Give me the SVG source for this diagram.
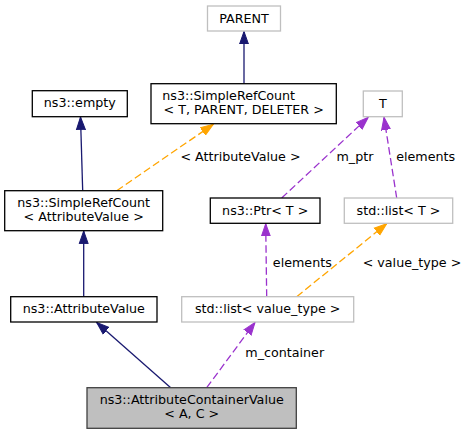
<svg xmlns="http://www.w3.org/2000/svg" width="469" height="435" viewBox="0 0 469 435">
<style>
text{font-family:"DejaVu Sans","Liberation Sans",sans-serif;font-size:12.7px;fill:#000}
.c{text-anchor:middle}
.box{fill:#fff;stroke:#000;stroke-width:1.3}
.ubox{fill:#fff;stroke:#bfbfbf;stroke-width:1.3}
.focus{fill:#bfbfbf;stroke:#404040;stroke-width:1.3}
.inh{stroke:#191970;stroke-width:1.3;fill:none}
.use{stroke:#9a32cd;stroke-width:1.3;fill:none;stroke-dasharray:7.5,3.5}
.tpl{stroke:#ffa500;stroke-width:1.3;fill:none;stroke-dasharray:7.5,3.5}
</style>
<defs>
<marker id="aInh" markerUnits="userSpaceOnUse" markerWidth="14" markerHeight="12" refX="12.7" refY="5" orient="auto" viewBox="0 0 14 10">
<path d="M0,0.5 L12.7,5 L0,9.5 Z" fill="#191970" stroke="#191970" stroke-width="1"/>
</marker>
<marker id="aUse" markerUnits="userSpaceOnUse" markerWidth="14" markerHeight="12" refX="12.7" refY="5" orient="auto" viewBox="0 0 14 10">
<path d="M0,0.5 L12.7,5 L0,9.5 Z" fill="#9a32cd" stroke="#9a32cd" stroke-width="1"/>
</marker>
<marker id="aTpl" markerUnits="userSpaceOnUse" markerWidth="14" markerHeight="12" refX="12.7" refY="5" orient="auto" viewBox="0 0 14 10">
<path d="M0,0.5 L12.7,5 L0,9.5 Z" fill="#ffa500" stroke="#ffa500" stroke-width="1"/>
</marker>
</defs>
<g id="connectors">
<line class="inh" x1="244" y1="83.7" x2="244" y2="31.5" marker-end="url(#aInh)"/>
<line class="inh" x1="82.7" y1="190.7" x2="80.5" y2="117" marker-end="url(#aInh)"/>
<line class="tpl" x1="116.7" y1="190.7" x2="213.3" y2="124.3" marker-end="url(#aTpl)"/>
<line class="use" x1="281.7" y1="198" x2="368.3" y2="117.3" marker-end="url(#aUse)"/>
<line class="use" x1="396.7" y1="198" x2="384" y2="117.3" marker-end="url(#aUse)"/>
<line class="inh" x1="83.7" y1="296.7" x2="83.7" y2="231" marker-end="url(#aInh)"/>
<line class="use" x1="266.7" y1="296.7" x2="265.7" y2="223.7" marker-end="url(#aUse)"/>
<line class="tpl" x1="296.7" y1="296.7" x2="386.7" y2="223.7" marker-end="url(#aTpl)"/>
<line class="inh" x1="170.7" y1="387.7" x2="96.7" y2="322.4" marker-end="url(#aInh)"/>
<line class="use" x1="206.7" y1="387.7" x2="255" y2="322.4" marker-end="url(#aUse)"/>
<text class="c" x="240.5" y="161.3">&lt; AttributeValue &gt;</text>
<text class="c" x="355" y="161.3">m_ptr</text>
<text class="c" x="425.7" y="161.3">elements</text>
<text class="c" x="302.3" y="266.7">elements</text>
<text class="c" x="412" y="266.7">&lt; value_type &gt;</text>
<text class="c" x="284.7" y="357.3">m_container</text>
</g>
<g id="node_parent">
<rect class="ubox" x="207.5" y="6" width="73" height="25"/>
<text class="c" x="244" y="22.5">PARENT</text>
</g>
<g id="node_srctpd">
<rect class="box" x="151" y="83.7" width="185.3" height="40"/>
<text x="162.3" y="100.3">ns3::SimpleRefCount</text>
<text class="c" x="243.7" y="114.3">&lt; T, PARENT, DELETER &gt;</text>
</g>
<g id="node_empty">
<rect class="box" x="32.3" y="90.7" width="95" height="26"/>
<text class="c" x="79.8" y="107.3">ns3::empty</text>
</g>
<g id="node_t">
<rect class="ubox" x="363.3" y="91" width="39" height="25.7"/>
<text class="c" x="382.8" y="107.5">T</text>
</g>
<g id="node_srcav">
<rect class="box" x="4.7" y="190.7" width="158" height="40"/>
<text class="c" x="83.7" y="207.3">ns3::SimpleRefCount</text>
<text class="c" x="83.7" y="221.3">&lt; AttributeValue &gt;</text>
</g>
<g id="node_ptr">
<rect class="box" x="210.3" y="198" width="109.7" height="25.3"/>
<text class="c" x="265.2" y="214.6">ns3::Ptr&lt; T &gt;</text>
</g>
<g id="node_listt">
<rect class="ubox" x="344.3" y="198" width="108.4" height="25.3"/>
<text class="c" x="398.5" y="214.6">std::list&lt; T &gt;</text>
</g>
<g id="node_attrval">
<rect class="box" x="10.7" y="296.7" width="146.3" height="25.3"/>
<text class="c" x="83.8" y="313.3">ns3::AttributeValue</text>
</g>
<g id="node_listvt">
<rect class="ubox" x="181.7" y="296.7" width="172" height="25.3"/>
<text class="c" x="267.7" y="313.3">std::list&lt; value_type &gt;</text>
</g>
<g id="node_acv">
<rect class="focus" x="87" y="387.7" width="209.3" height="40.6"/>
<text class="c" x="191.7" y="404.3">ns3::AttributeContainerValue</text>
<text class="c" x="191.7" y="418.3">&lt; A, C &gt;</text>
</g>
</svg>
